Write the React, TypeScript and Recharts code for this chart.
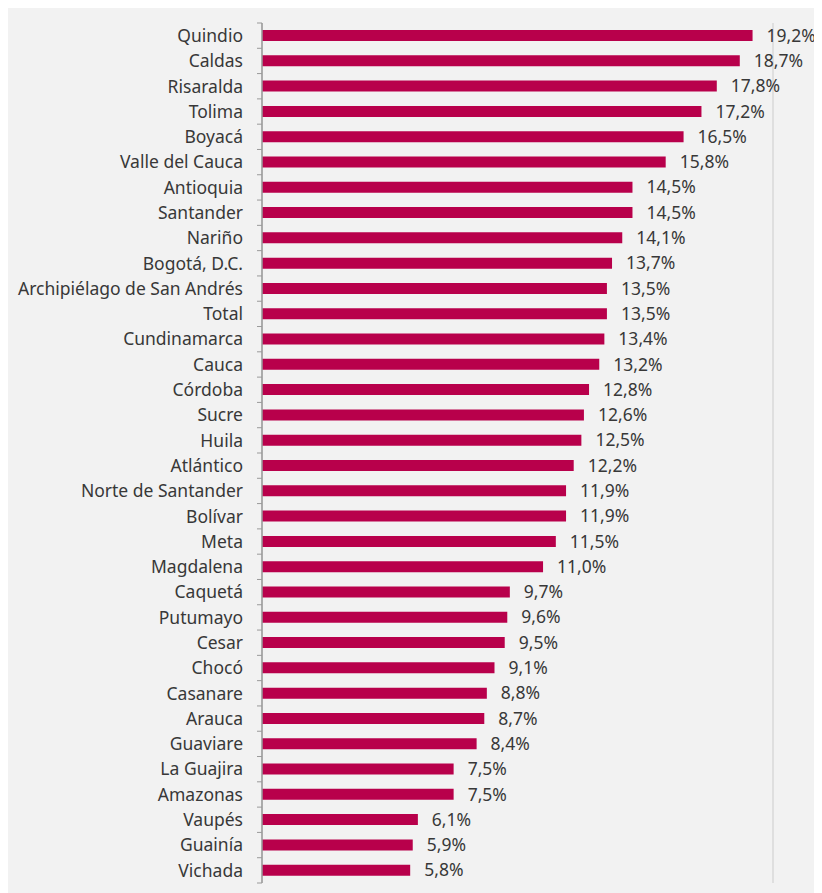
import React from 'react';
import { BarChart, Bar, XAxis, YAxis, CartesianGrid, LabelList } from 'recharts';

const categories = [
  'Quindio', 'Caldas', 'Risaralda', 'Tolima', 'Boyacá', 'Valle del Cauca', 'Antioquia', 'Santander',
  'Nariño', 'Bogotá, D.C.', 'Archipiélago de San Andrés', 'Total', 'Cundinamarca', 'Cauca', 'Córdoba',
  'Sucre', 'Huila', 'Atlántico', 'Norte de Santander', 'Bolívar', 'Meta', 'Magdalena', 'Caquetá',
  'Putumayo', 'Cesar', 'Chocó', 'Casanare', 'Arauca', 'Guaviare', 'La Guajira', 'Amazonas', 'Vaupés',
  'Guainía', 'Vichada',
];
const values = [
  19.2, 18.7, 17.8, 17.2, 16.5, 15.8, 14.5, 14.5, 14.1, 13.7, 13.5, 13.5, 13.4, 13.2, 12.8, 12.6, 12.5,
  12.2, 11.9, 11.9, 11.5, 11.0, 9.7, 9.6, 9.5, 9.1, 8.8, 8.7, 8.4, 7.5, 7.5, 6.1, 5.9, 5.8,
];
const xTicks = [0, 5, 10, 15, 20];

const data = categories.map((name, i) => ({ name, value: values[i] }));

const CHART_W = 814;
const CHART_H = 885;
const MARGIN = { top: 15, right: 49, bottom: 10, left: 4 };
const Y_WIDTH = 250;
const FONT = '"Noto Sans", "Open Sans", sans-serif';
const FONT_SIZE = 17.5;
const TEXT = '#383838';
const BAND = (CHART_H - MARGIN.top - MARGIN.bottom) / categories.length;

const fmt = (v: number) => v.toFixed(1).replace('.', ',') + '%';

const CatTick = (props: any) => {
  const { x, y, payload, index } = props;
  const last = index === categories.length - 1;
  return (
    <g>
      <line x1={x - 5} x2={x} y1={y - BAND / 2} y2={y - BAND / 2} stroke="#9a9a9a" strokeWidth={1} />
      {last && (
        <line x1={x - 5} x2={x} y1={y + BAND / 2} y2={y + BAND / 2} stroke="#9a9a9a" strokeWidth={1} />
      )}
      <text x={x - 19} y={y} dy="0.36em" textAnchor="end" fill={TEXT} fontSize={FONT_SIZE} fontFamily={FONT}>
        {payload.value}
      </text>
    </g>
  );
};

export default function App() {
  return (
    <div style={{ width: CHART_W, height: CHART_H, background: '#f2f2f2' }}>
      <BarChart width={CHART_W} height={CHART_H} data={data} layout="vertical" margin={MARGIN}>
        <CartesianGrid horizontal={false} stroke="#d9d9d9" strokeWidth={1.5} />
        <XAxis
          type="number"
          domain={[0, 20]}
          ticks={xTicks}
          height={0}
          tick={false}
          axisLine={false}
          tickLine={false}
        />
        <YAxis
          type="category"
          dataKey="name"
          width={Y_WIDTH}
          tickSize={0}
          tickMargin={0}
          tickLine={false}
          axisLine={{ stroke: '#9a9a9a', strokeWidth: 1.5 }}
          tick={<CatTick />}
          interval={0}
        />
        <Bar dataKey="value" fill="#b8004b" barSize={11} isAnimationActive={false}>
          <LabelList
            dataKey="value"
            position="right"
            offset={14}
            formatter={(v: any) => fmt(Number(v))}
            fill={TEXT}
            fontSize={FONT_SIZE}
            fontFamily={FONT}
          />
        </Bar>
      </BarChart>
    </div>
  );
}
